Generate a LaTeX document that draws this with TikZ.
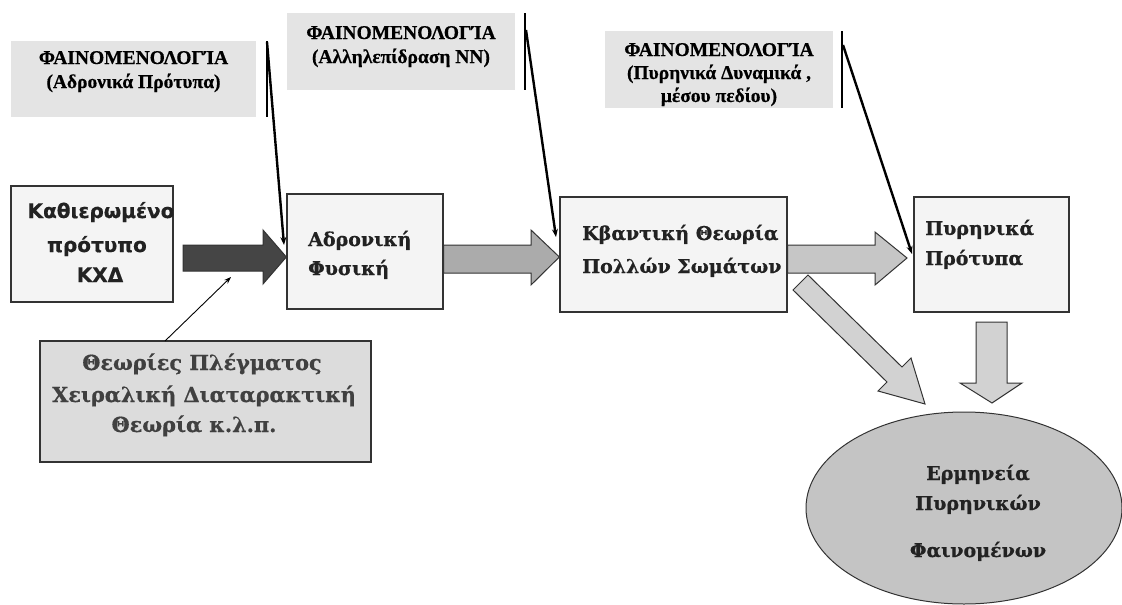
\documentclass[tikz,border=0pt]{standalone}
\usepackage{fontspec}
\setmainfont{Liberation Serif}
\newfontfamily\heavyserif[FakeBold=0.7]{DejaVu Serif Bold}
\newfontfamily\phenfont[FakeBold=0.5]{Liberation Serif Bold}
\newfontfamily\heavysans[FakeBold=0.5]{DejaVu Sans Bold}
\usetikzlibrary{arrows.meta,shapes.geometric}
\definecolor{phenfill}{HTML}{E4E4E4}
\definecolor{boxfill}{HTML}{F4F4F4}
\definecolor{boxline}{HTML}{333333}
\definecolor{darkarrow}{HTML}{454545}
\definecolor{midarrow}{HTML}{ABABAB}
\definecolor{lightarrow}{HTML}{C6C6C6}
\definecolor{palearrow}{HTML}{D2D2D2}
\definecolor{ellfill}{HTML}{C4C4C4}
\definecolor{theofill}{HTML}{DCDCDC}
\definecolor{theotext}{HTML}{404040}
\definecolor{boxtext}{HTML}{222222}
\tikzset{
  phenbox/.style={fill=phenfill, draw=none, inner sep=0pt},
  mainbox/.style={fill=boxfill, draw=boxline, line width=1.3pt, inner sep=0pt},
  phentext/.style={inner sep=0pt, anchor=base, font=\phenfont\fontsize{19.5}{22}\selectfont},
  sertext/.style={inner sep=0pt, anchor=base west, text=boxtext, font=\heavyserif\fontsize{19}{22}\selectfont},
  bararrow/.style={draw=boxline, line width=1pt, line join=miter},
  vbar/.style={line width=2.6pt, black},
  pointer/.style={line width=2.4pt, black, -{Stealth[length=8pt,width=6pt]}},
}
\begin{document}
\begin{tikzpicture}[x=1pt,y=-1pt]
\useasboundingbox (0,0) rectangle (1122,605);

% phenomenology boxes
\node[phenbox, minimum width=245pt, minimum height=76pt] (phen1) at (133.5,79) {};
\node[phenbox, minimum width=228pt, minimum height=77pt] (phen2) at (401,51.5) {};
\node[phenbox, minimum width=228pt, minimum height=77pt] (phen3) at (719,69.5) {};
\node[phentext] (p1a) at (133.5,64) {ΦΑΙΝΟΜΕΝΟΛΟΓΊΑ};
\node[phentext] (p1b) at (133.5,88) {(Αδρονικά Πρότυπα)};
\node[phentext] (p2a) at (401,39) {ΦΑΙΝΟΜΕΝΟΛΟΓΊΑ};
\node[phentext] (p2b) at (401,63) {(Αλληλεπίδραση ΝΝ)};
\node[phentext] (p3a) at (719,56) {ΦΑΙΝΟΜΕΝΟΛΟΓΊΑ};
\node[phentext] (p3b) at (719,79) {(Πυρηνικά Δυναμικά ,};
\node[phentext] (p3c) at (719,102) {μέσου πεδίου)};

% main boxes
\node[mainbox, minimum width=162pt, minimum height=116pt] (kath) at (92,244) {};
\node[mainbox, minimum width=156pt, minimum height=115pt] (adr) at (365,251.5) {};
\node[mainbox, minimum width=227pt, minimum height=115pt] (kvan) at (673.5,254.5) {};
\node[mainbox, minimum width=155pt, minimum height=115pt] (pyr) at (991.5,254.5) {};
\node[mainbox, fill=theofill, minimum width=331pt, minimum height=121pt] (theo) at (205.5,401.5) {};
\node[ellipse, fill=ellfill, draw=boxline, line width=1pt, inner sep=0pt, minimum width=316pt, minimum height=192pt] (ell) at (964,508) {};

% box texts
\begin{scope}[every node/.style={inner sep=0pt, anchor=base, text=boxtext, font=\heavysans\fontsize{20}{22}\selectfont}]
\clip (kath.south west) rectangle ([xshift=-0.65pt]kath.north east);
\node (k1) at (101,218) {Καθιερωμένο};
\node (k2) at (97,252) {πρότυπο};
\node (k3) at (100,282) {ΚΧΔ};
\end{scope}
\node[sertext] (a1) at (308,246) {Αδρονική};
\node[sertext] (a2) at (308,275) {Φυσική};
\node[sertext] (q1) at (582,240) {Κβαντική Θεωρία};
\node[sertext] (q2) at (582,273) {Πολλών Σωμάτων};
\node[sertext] (n1) at (925,235) {Πυρηνικά};
\node[sertext] (n2) at (925,265) {Πρότυπα};
\begin{scope}[every node/.style={inner sep=0pt, anchor=base, text=theotext, font=\heavyserif\fontsize{20.8}{23}\selectfont}]
\node (t1) at (202,370) {Θεωρίες Πλέγματος};
\node (t2) at (204,402) {Χειραλική Διαταρακτική};
\node (t3) at (194,432) {Θεωρία κ.λ.π.};
\end{scope}
\begin{scope}[every node/.style={inner sep=0pt, anchor=base, text=boxtext, font=\heavyserif\fontsize{19}{22}\selectfont}]
\node (e1) at (978,480) {Ερμηνεία};
\node (e2) at (978,510) {Πυρηνικών};
\node (e3) at (978,557) {Φαινομένων};
\end{scope}

% block arrows
\filldraw[bararrow, fill=darkarrow] (183,245) -- (263,245) -- (263,230) -- (adr.west |- 0,257) -- (263,284) -- (263,271) -- (183,271) -- cycle;
\filldraw[bararrow, fill=midarrow] (adr.east |- 0,245) -- (531,245) -- (531,230) -- (kvan.west |- 0,257) -- (531,285) -- (531,273) -- (adr.east |- 0,273) -- cycle;
\filldraw[bararrow, fill=lightarrow] (kvan.east |- 0,245) -- (875,245) -- (875,232) -- (907,258) -- (875,285) -- (875,273) -- (kvan.east |- 0,273) -- cycle;
\filldraw[bararrow, fill=palearrow] (976,322) -- (1007,322) -- (1007,383) -- (1022,383) -- (992,403) -- (960,383) -- (976,383) -- cycle;
\filldraw[bararrow, fill=palearrow] (793,290) -- (887,382) -- (878,391) -- (925,404) -- (911,358) -- (902,367) -- (808,275) -- cycle;

% phenomenology pointers
\coordinate (v1t) at (267,41);
\coordinate (v1b) at (267,117);
\coordinate (v2t) at (525,13);
\coordinate (v2b) at (525,90);
\coordinate (v3t) at (842,31);
\coordinate (v3b) at (842,108);
\coordinate (tip1) at (284,245);
\coordinate (tip2) at (556,237);
\coordinate (tip3) at (912,254);
\draw[vbar] (v1t) -- (v1b);
\draw[vbar] (v2t) -- (v2b);
\draw[vbar] (v3t) -- (v3b);
\draw[pointer] (267,42) -- (tip1);
\draw[pointer] (526,30) -- (tip2);
\draw[pointer] (843,45) -- (tip3);

% thin arrow from lattice box
\coordinate (thinend) at (231,277);
\draw[line width=0.9pt, -{Stealth[length=7pt,width=5pt]}] (165,341) -- (thinend);
\end{tikzpicture}
\end{document}
